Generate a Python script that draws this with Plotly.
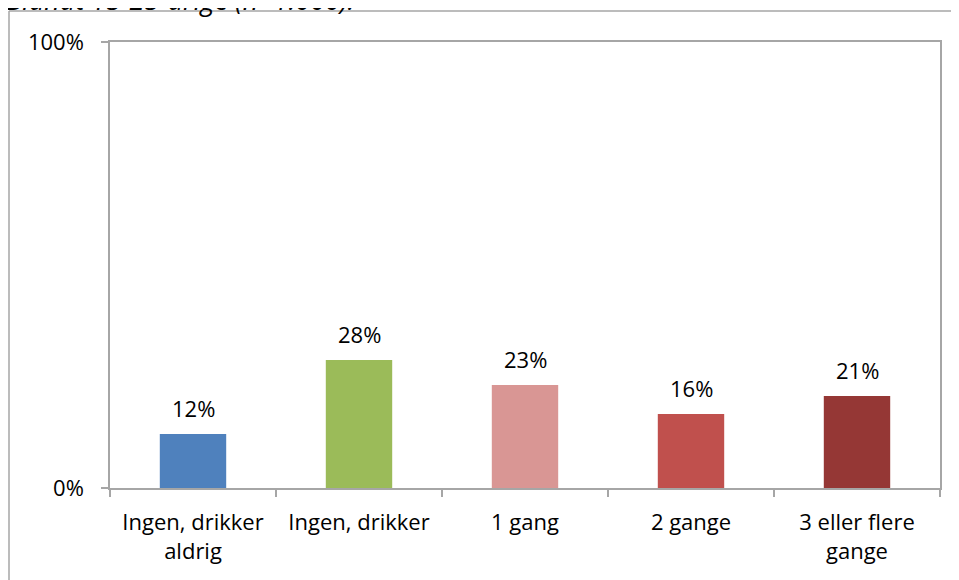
import plotly.graph_objects as go

# Data
categories = ["Ingen, drikker<br>aldrig", "Ingen, drikker", "1 gang", "2 gange", "3 eller flere<br>gange"]
values = [0.121, 0.287, 0.231, 0.166, 0.206]
value_labels = ["12%", "28%", "23%", "16%", "21%"]
bar_colors = ["#4F81BD", "#9BBB59", "#D99694", "#C0504D", "#953735"]
title_text = "Blandt 15-25-årige (n=1.000)."

FONT = "'Open Sans', sans-serif"
AXIS_GREY = "#A6A6A6"
FS = 22

# page body adds an 8px offset, so margins are shifted by that
L, T, R, B = 102, 34, 27, 100
PW = 959 - L - R
PH = 580 - T - B

fig = go.Figure()

fig.add_trace(go.Bar(
    x=categories,
    y=values,
    marker=dict(color=bar_colors, line=dict(width=0)),
    width=0.4,
    hovertemplate="%{y:.0%}<extra></extra>",
))

# value labels above the bars
for cat, val, lab in zip(categories, values, value_labels):
    fig.add_annotation(
        x=cat, y=val, text=lab,
        showarrow=False, yanchor="middle", yshift=26,
        font=dict(size=FS, family=FONT, color="black"),
    )

fig.update_layout(
    width=959,
    height=580,
    margin=dict(l=L, r=R, t=T, b=B),
    paper_bgcolor="white",
    plot_bgcolor="white",
    showlegend=False,
    font=dict(family=FONT, size=FS, color="black"),
)

fig.update_xaxes(
    type="category",
    showline=True,
    linecolor=AXIS_GREY,
    linewidth=1.5,
    mirror=True,
    ticks="outside",
    tickson="boundaries",
    ticklen=7,
    tickcolor=AXIS_GREY,
    tickwidth=1.5,
    showgrid=False,
    ticklabelstandoff=14,
    tickfont=dict(size=FS, family=FONT),
)

fig.update_yaxes(
    range=[0, 1],
    tickvals=[0, 1],
    ticktext=["0%", "100%"],
    showline=True,
    linecolor=AXIS_GREY,
    linewidth=1.5,
    mirror=True,
    ticks="outside",
    ticklen=7,
    tickcolor=AXIS_GREY,
    tickwidth=1.5,
    showgrid=False,
    zeroline=False,
    ticklabelstandoff=13,
    tickfont=dict(size=FS, family=FONT),
)

# outer chart-area border (top and left visible in the crop)
bx = (9 - 110) / PW
by = (488 - 11) / PH
fig.add_shape(type="line", xref="paper", yref="paper", x0=bx, x1=1.1, y0=by, y1=by,
              line=dict(color=AXIS_GREY, width=1.5))
fig.add_shape(type="line", xref="paper", yref="paper", x0=bx, x1=bx, y0=-0.3, y1=by,
              line=dict(color=AXIS_GREY, width=1.5))

# title, cut off by the top edge
fig.add_annotation(
    text="<i>" + title_text + "</i>",
    xref="paper", yref="paper",
    x=(0 - 106) / PW, y=(488 + 1) / PH,
    xanchor="left", yanchor="middle",
    showarrow=False,
    font=dict(size=27, family=FONT, color="black"),
)

fig.write_html("out.html")
